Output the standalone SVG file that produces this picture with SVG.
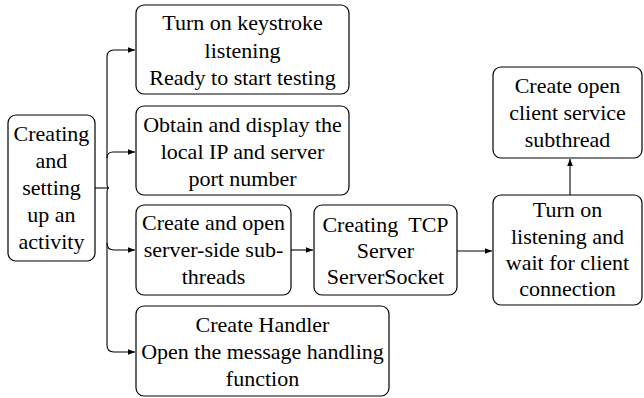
<svg xmlns="http://www.w3.org/2000/svg" width="644" height="398" viewBox="0 0 644 398">
<style>
.box{fill:#fff;stroke:#000;stroke-width:1.2}
.t{text-anchor:middle;fill:#000;font-family:'Liberation Serif','Times New Roman',serif;font-size:22px}
.c{fill:none;stroke:#000;stroke-width:1.1}
</style>
<defs>
<marker id="ah" viewBox="0 0 10 10" refX="10" refY="5" markerWidth="7" markerHeight="7" markerUnits="userSpaceOnUse" orient="auto">
<path d="M0,1 L10,5 L0,9 Z" fill="#000"/>
</marker>
</defs>
<rect width="644" height="398" fill="#fff"/>
<g id="connectors">
<path class="c" d="M95,188 H109"/>
<path class="c" d="M107,183 V57 Q107,50 114,50 H135" marker-end="url(#ah)"/>
<path class="c" d="M107,183 Q107,188 109,188 Q107,188 107,193 V345 Q107,352 114,352 H135" marker-end="url(#ah)"/>
<path class="c" d="M107,158 Q107,152 113,152 H135" marker-end="url(#ah)"/>
<path class="c" d="M107,243 Q107,250 114,250 H135" marker-end="url(#ah)"/>
<path class="c" d="M291,250 H313" marker-end="url(#ah)"/>
<path class="c" d="M457,251 H492" marker-end="url(#ah)"/>
<path class="c" d="M570,195 V159" marker-end="url(#ah)"/>
</g>
<g id="n-activity">
<rect class="box" x="8" y="115" width="87" height="146" rx="8"/>
<text class="t" x="51.5" y="141">Creating</text>
<text class="t" x="51.5" y="168">and</text>
<text class="t" x="51.5" y="195">setting</text>
<text class="t" x="51.5" y="222">up an</text>
<text class="t" x="51.5" y="249">activity</text>
</g>
<g id="n-keystroke">
<rect class="box" x="136" y="5" width="213" height="89" rx="8"/>
<text class="t" x="242.5" y="30">Turn on keystroke</text>
<text class="t" x="242.5" y="57.5">listening</text>
<text class="t" x="242.5" y="85">Ready to start testing</text>
</g>
<g id="n-ip">
<rect class="box" x="136" y="106" width="213" height="89" rx="8"/>
<text class="t" x="242.5" y="132">Obtain and display the</text>
<text class="t" x="242.5" y="159">local IP and server</text>
<text class="t" x="242.5" y="186">port number</text>
</g>
<g id="n-subthreads">
<rect class="box" x="136" y="205" width="155" height="90" rx="8"/>
<text class="t" x="213.5" y="230">Create and open</text>
<text class="t" x="213.5" y="257">server-side sub-</text>
<text class="t" x="213.5" y="284">threads</text>
</g>
<g id="n-tcp">
<rect class="box" x="314" y="205" width="143" height="90" rx="8"/>
<text class="t" x="385.5" y="232" word-spacing="5">Creating TCP</text>
<text class="t" x="385.5" y="258">Server</text>
<text class="t" x="385.5" y="284">ServerSocket</text>
</g>
<g id="n-handler">
<rect class="box" x="136" y="306" width="253" height="90" rx="8"/>
<text class="t" x="262.5" y="332">Create Handler</text>
<text class="t" x="262.5" y="359">Open the message handling</text>
<text class="t" x="262.5" y="386">function</text>
</g>
<g id="n-listen">
<rect class="box" x="493" y="195" width="149" height="110" rx="8"/>
<text class="t" x="567.5" y="217">Turn on</text>
<text class="t" x="567.5" y="244">listening and</text>
<text class="t" x="567.5" y="270">wait for client</text>
<text class="t" x="567.5" y="296">connection</text>
</g>
<g id="n-client">
<rect class="box" x="493" y="67" width="149" height="91" rx="8"/>
<text class="t" x="567.5" y="93">Create open</text>
<text class="t" x="567.5" y="120">client service</text>
<text class="t" x="567.5" y="147">subthread</text>
</g>
</svg>
